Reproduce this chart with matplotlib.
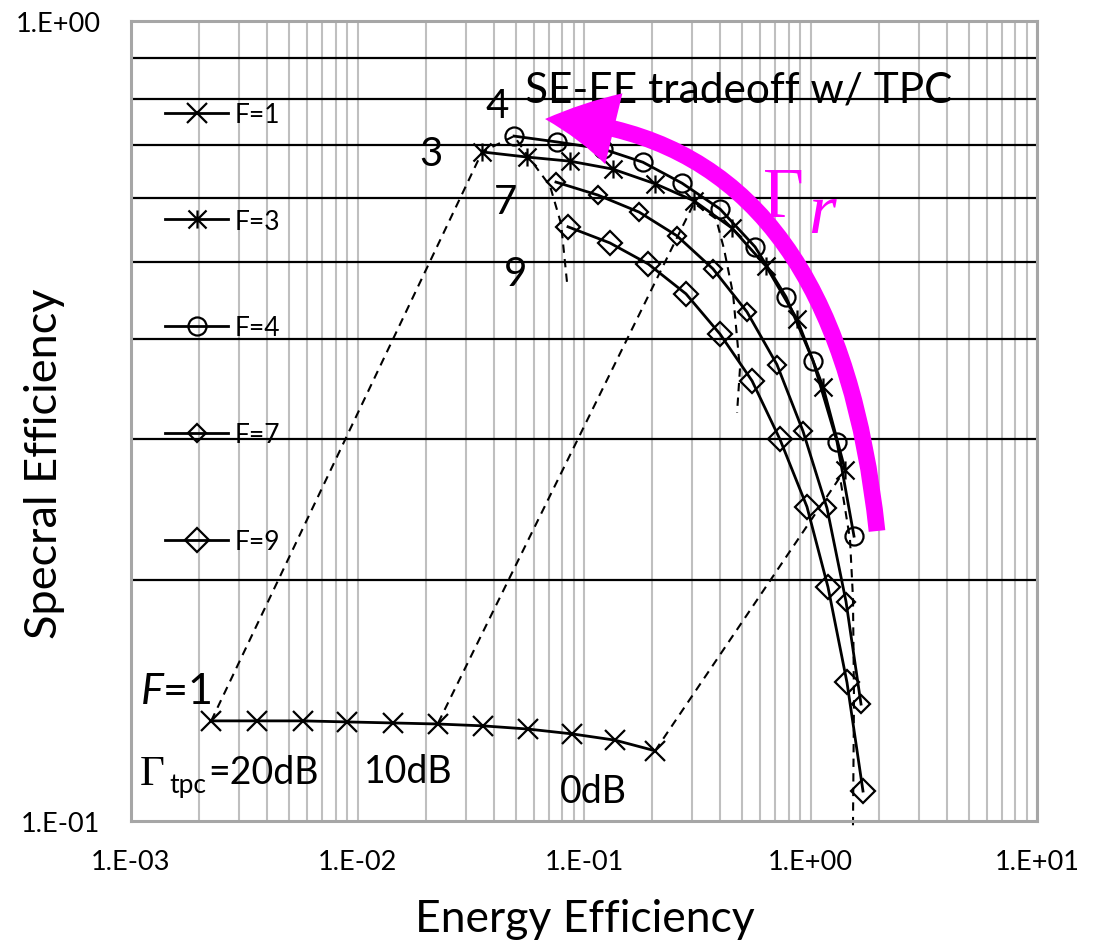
import numpy as np
import matplotlib.pyplot as plt
from matplotlib.path import Path
from matplotlib.patches import FancyArrowPatch
from matplotlib.ticker import LogLocator, NullFormatter

plt.rcParams['font.family'] = ['Lato', 'DejaVu Sans']
plt.rcParams['mathtext.fontset'] = 'custom'
plt.rcParams['mathtext.rm'] = 'Lato'
plt.rcParams['mathtext.it'] = 'Lato:italic'

# energy efficiency (x) / spectral efficiency (y), Gamma_tpc = 20dB ... 0dB
ee_f1 = [2.26e-3, 3.60e-3, 5.75e-3, 8.99e-3, 1.44e-2, 2.27e-2, 3.58e-2, 5.66e-2, 8.85e-2, 0.137, 0.206]
se_f1 = [0.1334, 0.1334, 0.1334, 0.1330, 0.1326, 0.1322, 0.1315, 0.1303, 0.1285, 0.1262, 0.1224]

ee_f3 = [3.55e-2, 5.60e-2, 8.67e-2, 0.134, 0.206, 0.306, 0.450, 0.636, 0.872, 1.136, 1.420]
se_f3 = [0.686, 0.676, 0.668, 0.653, 0.626, 0.596, 0.551, 0.494, 0.424, 0.349, 0.275]

ee_f4 = [4.91e-2, 7.60e-2, 0.121, 0.182, 0.271, 0.399, 0.569, 0.780, 1.026, 1.309, 1.556]
se_f4 = [0.718, 0.706, 0.692, 0.666, 0.627, 0.582, 0.522, 0.452, 0.376, 0.298, 0.227]

ee_f7 = [7.52e-2, 0.115, 0.175, 0.257, 0.371, 0.524, 0.711, 0.927, 1.183, 1.435, 1.671]
se_f7 = [0.629, 0.606, 0.577, 0.539, 0.490, 0.433, 0.372, 0.307, 0.246, 0.188, 0.140]

ee_f9 = [8.50e-2, 0.130, 0.192, 0.282, 0.399, 0.552, 0.733, 0.965, 1.195, 1.449, 1.705]
se_f9 = [0.553, 0.528, 0.497, 0.456, 0.406, 0.355, 0.300, 0.247, 0.196, 0.149, 0.109]

# dashed lines of constant Gamma_tpc
ee_20db = [2.26e-3, 3.55e-2, 4.91e-2, 5.78e-2, 7.08e-2, 7.92e-2, 8.41e-2]
se_20db = [0.1334, 0.686, 0.718, 0.672, 0.622, 0.558, 0.472]
ee_10db = [2.27e-2, 0.306, 0.383, 0.415, 0.455, 0.488, 0.474]
se_10db = [0.1326, 0.592, 0.566, 0.519, 0.456, 0.367, 0.324]
ee_0db = [0.206, 1.350, 1.494, 1.540, 1.556, 1.540]
se_0db = [0.1224, 0.269, 0.225, 0.190, 0.142, 0.0983]

xtick_vals = [1e-3, 1e-2, 1e-1, 1e0, 1e1]
xtick_labels = ['1.E-03', '1.E-02', '1.E-01', '1.E+00', '1.E+01']
ytick_vals = [1e-1, 1e0]
ytick_labels = ['1.E-01', '1.E+00']

# asterisk marker like excel: x plus vertical bar
star = Path([(-1, -1), (1, 1), (-1, 1), (1, -1), (0, -1), (0, 1)],
            [Path.MOVETO, Path.LINETO, Path.MOVETO, Path.LINETO, Path.MOVETO, Path.LINETO])

fig = plt.figure(figsize=(10.99, 9.45), dpi=100)
ax = fig.add_axes([131/1099, 123/945, 906/1099, 800/945])
ax.set_xscale('log')
ax.set_yscale('log')
ax.set_xlim(1e-3, 1e1)
ax.set_ylim(1e-1, 1e0)

ax.xaxis.set_minor_locator(LogLocator(base=10, subs=np.arange(2, 10)))
ax.yaxis.set_minor_locator(LogLocator(base=10, subs=np.arange(2, 10)))
ax.xaxis.set_minor_formatter(NullFormatter())
ax.yaxis.set_minor_formatter(NullFormatter())
ax.set_xticks(xtick_vals, xtick_labels)
ax.set_yticks(ytick_vals, ytick_labels)
ax.grid(which='both', axis='x', color='#BFBFBF', lw=1.5)
ax.grid(which='minor', axis='y', color='black', lw=1.6)
ax.set_axisbelow(True)
ax.tick_params(which='both', length=0)
ax.tick_params(axis='x', pad=20, labelsize=19.5)
ax.tick_params(axis='y', pad=22, labelsize=19.5)
for s in ax.spines.values():
    s.set_color('#A6A6A6')
    s.set_linewidth(2.2)

kw = dict(color='black', lw=2.0, mfc='none', mec='black', mew=1.6)
ax.plot(ee_f1, se_f1, marker='x', ms=14, label='F=1', **kw)
ax.plot(ee_f3, se_f3, marker=star, ms=13, label='F=3', **kw)
ax.plot(ee_f4, se_f4, marker='o', ms=13, label='F=4', **kw)
ax.plot(ee_f7, se_f7, marker='D', ms=9, label='F=7', **kw)
ax.plot(ee_f9, se_f9, marker='D', ms=12, label='F=9', **kw)

dash = dict(color='black', lw=1.5, ls=(0, (4, 3)))
ax.plot(ee_20db, se_20db, **dash)
ax.plot(ee_10db, se_10db, **dash)
ax.plot(ee_0db, se_0db, clip_on=False, **dash)

ax.legend(loc='upper left', bbox_to_anchor=(0.0375, 0.899), frameon=False,
          fontsize=19, borderaxespad=0, borderpad=0, labelspacing=3.1,
          handlelength=2.4, handletextpad=0.25)

ax.set_xlabel('Energy Efficiency', fontsize=32, va='center')
ax.xaxis.set_label_coords(0.501, -0.1225)
ax.set_ylabel('Specral Efficiency', fontsize=32.5, va='center')
ax.yaxis.set_label_coords(-0.095, 0.448)

tr = ax.transAxes
ax.text(0.4349, 0.899, 'SE-EE tradeoff w/ TPC', transform=tr, fontsize=30.5, va='baseline')
ax.text(0.404, 0.894, '4', transform=tr, fontsize=29, ha='center', va='center')
ax.text(0.331, 0.834, '3', transform=tr, fontsize=29, ha='center', va='center')
ax.text(0.413, 0.774, '7', transform=tr, fontsize=29, ha='center', va='center')
ax.text(0.424, 0.685, '9', transform=tr, fontsize=29, ha='center', va='center')
ax.text(0.0099, 0.1475, '$F$=1', transform=tr, fontsize=31, va='baseline')
ax.text(0.0099, 0.0463, 'Γ', transform=tr, fontsize=31, va='baseline', family='Liberation Serif')
ax.text(0.0420, 0.0363, 'tpc', transform=tr, fontsize=19, va='baseline')
ax.text(0.0850, 0.0475, '=20dB', transform=tr, fontsize=27, va='baseline')
ax.text(0.2572, 0.0488, '10dB', transform=tr, fontsize=27, va='baseline')
ax.text(0.4735, 0.0238, '0dB', transform=tr, fontsize=27, va='baseline')

mag = '#FF00FF'
ax.text(0.698, 0.756, 'Γ', transform=tr, fontsize=51, color=mag, va='baseline',
        family='Liberation Serif')
ax.text(0.747, 0.736, 'r', transform=tr, fontsize=51, color=mag, va='baseline',
        family='Liberation Serif', style='italic')

arrow = FancyArrowPatch((0.8234, 0.3625), (0.457, 0.8775), transform=tr,
                        connectionstyle='angle3,angleA=96,angleB=-3',
                        arrowstyle='simple,head_length=1.0,head_width=1.05,tail_width=0.24',
                        mutation_scale=50, color=mag, lw=0, shrinkA=0, shrinkB=0, zorder=5)
ax.add_patch(arrow)

fig.savefig('out.png', dpi=100)
